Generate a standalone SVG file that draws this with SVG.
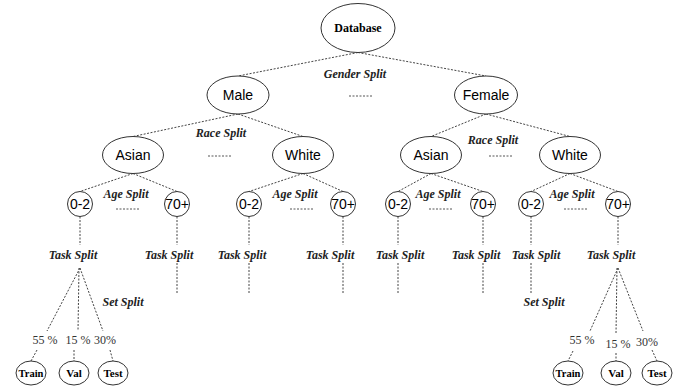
<svg xmlns="http://www.w3.org/2000/svg" width="688" height="389" viewBox="0 0 688 389">
<style>
  .nd { fill: #fff; stroke: #333; stroke-width: 1; }
  .sans { font-family: "Liberation Sans", Arial, sans-serif; font-size: 14px; fill: #000; text-anchor: middle; }
  .bs { font-family: "Liberation Serif", "Times New Roman", serif; font-weight: bold; fill: #000; text-anchor: middle; }
  .lbl { font-family: "Liberation Serif", "Times New Roman", serif; font-weight: bold; font-style: italic; font-size: 12px; fill: #222; text-anchor: middle; }
  .pct { font-family: "Liberation Serif", "Times New Roman", serif; font-size: 12px; fill: #333; text-anchor: middle; }
  .cn line { stroke: #444; stroke-width: 1; stroke-dasharray: 2 1.5; fill: none; }
  .dots line { stroke: #555; stroke-width: 1; stroke-dasharray: 2 1.5; }
</style>
<rect width="688" height="389" fill="#fff"/>
<g id="connectors" class="cn">
  <line x1="358" y1="52.5" x2="238" y2="76"/>
  <line x1="358" y1="52.5" x2="486" y2="76"/>
  <line x1="238" y1="114" x2="133" y2="136.5"/>
  <line x1="238" y1="114" x2="303" y2="136.5"/>
  <line x1="486" y1="114" x2="431" y2="136.5"/>
  <line x1="486" y1="114" x2="570" y2="136.5"/>
  <line x1="133" y1="173.5" x2="80" y2="191.5"/>
  <line x1="133" y1="173.5" x2="177" y2="191.5"/>
  <line x1="303" y1="173.5" x2="249" y2="191.5"/>
  <line x1="303" y1="173.5" x2="343" y2="191.5"/>
  <line x1="431" y1="173.5" x2="398" y2="191.5"/>
  <line x1="431" y1="173.5" x2="483" y2="191.5"/>
  <line x1="570" y1="173.5" x2="531" y2="191.5"/>
  <line x1="570" y1="173.5" x2="618" y2="191.5"/>
  <line x1="80" y1="216.5" x2="80" y2="245"/>
  <line x1="177" y1="216.5" x2="177" y2="245"/>
  <line x1="249" y1="216.5" x2="249" y2="245"/>
  <line x1="343" y1="216.5" x2="343" y2="245"/>
  <line x1="398" y1="216.5" x2="398" y2="245"/>
  <line x1="483" y1="216.5" x2="483" y2="245"/>
  <line x1="531" y1="216.5" x2="531" y2="245"/>
  <line x1="618" y1="216.5" x2="618" y2="245"/>
  <line x1="177" y1="263" x2="177" y2="294"/>
  <line x1="249" y1="263" x2="249" y2="294"/>
  <line x1="343" y1="263" x2="343" y2="294"/>
  <line x1="398" y1="263" x2="398" y2="294"/>
  <line x1="483" y1="263" x2="483" y2="294"/>
  <line x1="531" y1="263" x2="531" y2="294"/>
  <line x1="80" y1="268" x2="47" y2="331"/>
  <line x1="37" y1="350" x2="31" y2="361"/>
  <line x1="79" y1="268" x2="78" y2="331"/>
  <line x1="74" y1="350" x2="74" y2="361"/>
  <line x1="80" y1="268" x2="103" y2="331"/>
  <line x1="110" y1="350" x2="113" y2="361"/>
  <line x1="618" y1="268" x2="590" y2="331"/>
  <line x1="573" y1="351" x2="568" y2="361"/>
  <line x1="617" y1="268" x2="616" y2="334"/>
  <line x1="616" y1="353" x2="616" y2="361"/>
  <line x1="618" y1="268" x2="643" y2="331"/>
  <line x1="652" y1="350" x2="657" y2="361"/>
</g>
<g id="node-database"><ellipse class="nd" cx="358" cy="28" rx="37" ry="24.5"/><text class="bs" x="358" y="32" font-size="12">Database</text></g>
<g id="node-male"><ellipse class="nd" cx="238" cy="95" rx="31" ry="19"/><text class="sans" x="238" y="100">Male</text></g>
<g id="node-female"><ellipse class="nd" cx="486" cy="95" rx="31.5" ry="19"/><text class="sans" x="486" y="100">Female</text></g>
<g id="node-male-asian"><ellipse class="nd" cx="133" cy="155" rx="30.5" ry="18.5"/><text class="sans" x="133" y="160">Asian</text></g>
<g id="node-male-white"><ellipse class="nd" cx="303" cy="155" rx="30.5" ry="18.5"/><text class="sans" x="303" y="160">White</text></g>
<g id="node-female-asian"><ellipse class="nd" cx="431" cy="155" rx="30.5" ry="18.5"/><text class="sans" x="431" y="160">Asian</text></g>
<g id="node-female-white"><ellipse class="nd" cx="570" cy="155" rx="30.5" ry="18.5"/><text class="sans" x="570" y="160">White</text></g>
<g id="node-ma-02"><circle class="nd" cx="80" cy="204" r="12.5"/><text class="sans" x="80" y="209">0-2</text></g>
<g id="node-ma-70"><circle class="nd" cx="177" cy="204" r="12.5"/><text class="sans" x="177" y="209">70+</text></g>
<g id="node-mw-02"><circle class="nd" cx="249" cy="204" r="12.5"/><text class="sans" x="249" y="209">0-2</text></g>
<g id="node-mw-70"><circle class="nd" cx="343" cy="204" r="12.5"/><text class="sans" x="343" y="209">70+</text></g>
<g id="node-fa-02"><circle class="nd" cx="398" cy="204" r="12.5"/><text class="sans" x="398" y="209">0-2</text></g>
<g id="node-fa-70"><circle class="nd" cx="483" cy="204" r="12.5"/><text class="sans" x="483" y="209">70+</text></g>
<g id="node-fw-02"><circle class="nd" cx="531" cy="204" r="12.5"/><text class="sans" x="531" y="209">0-2</text></g>
<g id="node-fw-70"><circle class="nd" cx="618" cy="204" r="12.5"/><text class="sans" x="618" y="209">70+</text></g>
<g id="node-train-left"><ellipse class="nd" cx="31" cy="373" rx="15" ry="12"/><text class="bs" x="31" y="377" font-size="10.5">Train</text></g>
<g id="node-val-left"><ellipse class="nd" cx="74" cy="373" rx="15" ry="12"/><text class="bs" x="74" y="377" font-size="11">Val</text></g>
<g id="node-test-left"><ellipse class="nd" cx="113" cy="373" rx="15" ry="12"/><text class="bs" x="113" y="377" font-size="11">Test</text></g>
<g id="node-train-right"><ellipse class="nd" cx="568" cy="373" rx="15" ry="12"/><text class="bs" x="568" y="377" font-size="10.5">Train</text></g>
<g id="node-val-right"><ellipse class="nd" cx="616" cy="373" rx="15" ry="12"/><text class="bs" x="616" y="377" font-size="11">Val</text></g>
<g id="node-test-right"><ellipse class="nd" cx="657" cy="373" rx="15" ry="12"/><text class="bs" x="657" y="377" font-size="11">Test</text></g>
<g id="labels">
  <text class="lbl" x="355" y="78">Gender Split</text>
  <text class="lbl" x="221" y="137">Race Split</text>
  <text class="lbl" x="493" y="144">Race Split</text>
  <text class="lbl" x="126" y="198">Age Split</text>
  <text class="lbl" x="295" y="198">Age Split</text>
  <text class="lbl" x="438" y="198">Age Split</text>
  <text class="lbl" x="572" y="198">Age Split</text>
  <text class="lbl" x="73" y="259">Task Split</text>
  <text class="lbl" x="169" y="259">Task Split</text>
  <text class="lbl" x="242" y="259">Task Split</text>
  <text class="lbl" x="330" y="259">Task Split</text>
  <text class="lbl" x="400" y="259">Task Split</text>
  <text class="lbl" x="476" y="259">Task Split</text>
  <text class="lbl" x="536" y="259">Task Split</text>
  <text class="lbl" x="611" y="259">Task Split</text>
  <text class="lbl" x="123" y="306">Set Split</text>
  <text class="lbl" x="544" y="306">Set Split</text>
  <text class="pct" x="45" y="344">55 %</text>
  <text class="pct" x="78" y="344">15 %</text>
  <text class="pct" x="105" y="344">30%</text>
  <text class="pct" x="582" y="344">55 %</text>
  <text class="pct" x="618" y="348">15 %</text>
  <text class="pct" x="647" y="346">30%</text>
</g>
<g id="ellipses" class="dots">
  <line x1="349" y1="96" x2="373" y2="96"/>
  <line x1="208" y1="156" x2="231" y2="156"/>
  <line x1="489" y1="156" x2="513" y2="156"/>
  <line x1="116" y1="209" x2="140" y2="209"/>
  <line x1="290" y1="209" x2="314" y2="209"/>
  <line x1="429" y1="209" x2="453" y2="209"/>
  <line x1="564" y1="209" x2="588" y2="209"/>
</g>
</svg>
